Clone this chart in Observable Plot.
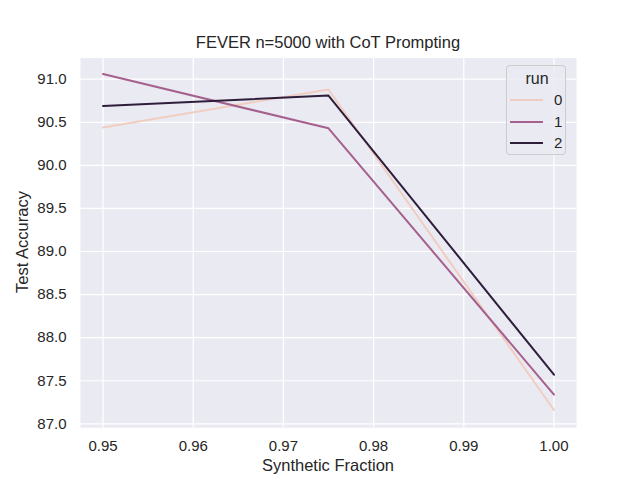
<!DOCTYPE html>
<html>
<head>
<meta charset="utf-8">
<script src="https://cdn.jsdelivr.net/npm/d3@7"></script>
<script src="https://cdn.jsdelivr.net/npm/@observablehq/plot@0.6"></script>
<style>
  html, body { margin: 0; padding: 0; background: #ffffff; }
  #fig { position: relative; width: 640px; height: 480px; font-family: "Liberation Sans", Arial, sans-serif; color: #262626; }
  #fig svg { position: absolute; left: 0; top: 0; }
  .lbl { position: absolute; white-space: nowrap; font-size: 16.5px; color: #262626; }
  #title { left: 0; width: 656px; text-align: center; top: 33px; }
  #xlabel { left: 80px; width: 496px; text-align: center; top: 456px; }
  #ylabel { left: 22px; top: 242px; transform: translate(-50%, -50%) rotate(-90deg); }
  #legend { position: absolute; left: 506px; top: 65px; width: 60px; height: 90px; box-sizing: border-box;
            border: 1px solid #cccccc; border-radius: 4px; background: rgba(234,234,242,0.8); }
  #legend .lt { position: absolute; top: 4px; left: 0; width: 60px; text-align: center; font-size: 16px; }
  #legend .row { position: absolute; left: 3px; height: 18px; font-size: 15px; }
  #legend .row svg { position: absolute; left: 0; top: 3px; }
  #legend .row span { position: absolute; left: 44px; top: 0; line-height: 18px; }
</style>
</head>
<body>
<div id="fig">
  <div id="chart"></div>
  <div class="lbl" id="title">FEVER n=5000 with CoT Prompting</div>
  <div class="lbl" id="xlabel">Synthetic Fraction</div>
  <div class="lbl" id="ylabel">Test Accuracy</div>
  <div id="legend"><div class="lt">run</div></div>
</div>
<script>
const fractions = [0.95, 0.975, 1.0];
const runs = [0, 1, 2];
const run0 = [90.44, 90.88, 87.16];
const run1 = [91.06, 90.43, 87.34];
const run2 = [90.69, 90.81, 87.57];
const runColors = ["#f0cdc0", "#a5608e", "#2e1e3c"];
const xTicks = [0.95, 0.96, 0.97, 0.98, 0.99, 1.00];
const yTicks = [87.0, 87.5, 88.0, 88.5, 89.0, 89.5, 90.0, 90.5, 91.0];

const series = [run0, run1, run2];
const data = [];
runs.forEach((r, i) => fractions.forEach((f, j) => data.push({run: r, fraction: f, acc: series[i][j]})));

const chart = Plot.plot({
  width: 640,
  height: 480,
  marginLeft: 80,
  marginRight: 64,
  marginTop: 57.6,
  marginBottom: 52.8,
  style: {fontFamily: '"Liberation Sans", Arial, sans-serif', fontSize: "15px", color: "#262626", background: "transparent"},
  x: {domain: [0.9475, 1.0025], ticks: xTicks, tickFormat: d3.format(".2f"), label: null},
  y: {domain: [86.955, 91.245], ticks: yTicks, tickFormat: d3.format(".1f"), label: null},
  color: {domain: runs, range: runColors},
  marks: [
    Plot.frame({fill: "#eaeaf2", stroke: null}),
    Plot.gridX(xTicks, {stroke: "#ffffff", strokeOpacity: 1, strokeWidth: 1.2}),
    Plot.gridY(yTicks, {stroke: "#ffffff", strokeOpacity: 1, strokeWidth: 1.2}),
    Plot.axisX({ticks: xTicks, tickFormat: d3.format(".2f"), tickSize: 0, tickPadding: 13, label: null, fontSize: 15}),
    Plot.axisY({ticks: yTicks, tickFormat: d3.format(".1f"), tickSize: 0, tickPadding: 14, label: null, fontSize: 15}),
    Plot.line(data, {x: "fraction", y: "acc", z: "run", stroke: "run", strokeWidth: 2})
  ]
});
document.getElementById("chart").appendChild(chart);

const legend = document.getElementById("legend");
runs.forEach((r, i) => {
  const row = document.createElement("div");
  row.className = "row";
  row.style.top = (25 + i * 21.5) + "px";
  row.innerHTML = `<svg width="36" height="12"><line x1="0" x2="33" y1="6" y2="6" stroke="${runColors[i]}" stroke-width="2"/></svg><span>${r}</span>`;
  legend.appendChild(row);
});
</script>
</body>
</html>
